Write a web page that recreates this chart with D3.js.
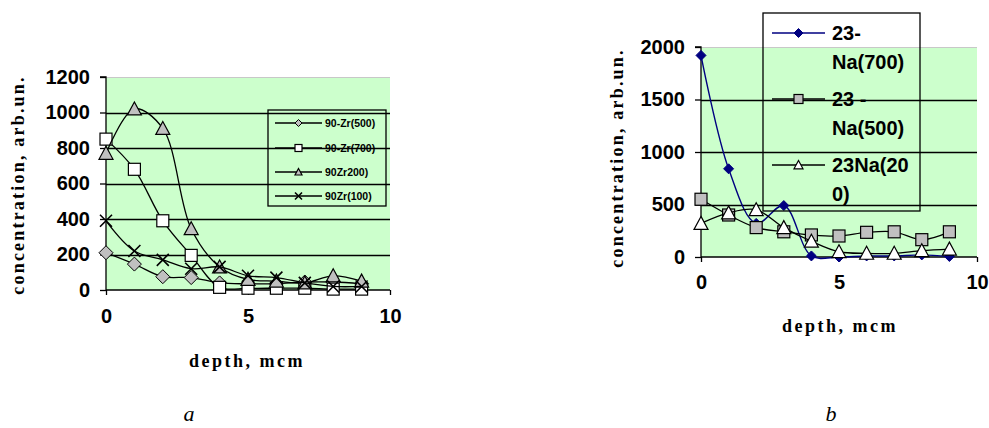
<!DOCTYPE html>
<html>
<head>
<meta charset="utf-8">
<script src="https://cdn.jsdelivr.net/npm/d3@7"></script>
<style>
  html, body { margin: 0; padding: 0; background: #fff; }
  svg { display: block; }
</style>
</head>
<body>
<svg id="chart" width="989" height="428"></svg>
<script>
// depth points, mcm
const depth = [0, 1, 2, 3, 4, 5, 6, 7, 8, 9];

// panel a: 90Zr profiles
const zrNames = ["90-Zr(500)", "90-Zr(700)", "90Zr200)", "90Zr(100)"];
const zr500 = [210, 146, 75, 70, 40, 35, 35, 45, 45, 35];
const zr700 = [850, 680, 390, 195, 15, 10, 10, 10, 5, 5];
const zr200 = [770, 1020, 910, 345, 130, 60, 50, 40, 80, 50];
const zr100 = [390, 220, 170, 120, 130, 80, 70, 40, 20, 20];
const zrYTicks = [0, 200, 400, 600, 800, 1000, 1200];

// panel b: 23Na profiles
const naNames = [["23-", "Na(700)"], ["23 -", "Na(500)"], ["23Na(20", "0)"]];
const na700 = [1920, 840, 320, 490, 10, 0, 10, 10, 20, 5];
const na500 = [550, 400, 280, 240, 210, 200, 235, 240, 165, 240];
const na200 = [320, 420, 450, 280, 150, 50, 35, 35, 60, 75];
const naYTicks = [0, 500, 1000, 1500, 2000];

const xTicks = [0, 5, 10];
const xTitle = "depth, mcm";
const yTitle = "concentration, arb.un.";

const svg = d3.select("#chart");
const SANS = "'Liberation Sans', Arial, sans-serif";
const SERIF = "'Liberation Serif', 'Times New Roman', serif";
const PLOT_FILL = "#ccffcc";

// marker painters, each centred on (0,0)
function drawMarker(g, kind, size, fill, stroke) {
  const h = size / 2;
  if (kind === "diamond") {
    g.append("path").attr("d", `M0,${-h}L${h},0L0,${h}L${-h},0Z`)
      .attr("fill", fill).attr("stroke", stroke).attr("stroke-width", 1);
  } else if (kind === "square") {
    g.append("rect").attr("x", -h).attr("y", -h).attr("width", size).attr("height", size)
      .attr("fill", fill).attr("stroke", stroke).attr("stroke-width", 1.2);
  } else if (kind === "triangle") {
    g.append("path").attr("d", `M0,${-h}L${h},${h * 0.85}L${-h},${h * 0.85}Z`)
      .attr("fill", fill).attr("stroke", stroke).attr("stroke-width", 1.2);
  } else if (kind === "x") {
    g.append("path").attr("d", `M${-h},${-h}L${h},${h}M${-h},${h}L${h},${-h}`)
      .attr("fill", "none").attr("stroke", stroke).attr("stroke-width", 1.6);
  }
}

function panel(cfg) {
  const x = d3.scaleLinear().domain([0, 10]).range([cfg.left, cfg.right]);
  const y = d3.scaleLinear().domain(cfg.yDomain).range([cfg.bottom, cfg.top]);
  const g = svg.append("g");

  // plot area
  g.append("rect").attr("x", cfg.left).attr("y", cfg.top)
    .attr("width", cfg.right - cfg.left).attr("height", cfg.bottom - cfg.top)
    .attr("fill", PLOT_FILL);
  g.append("line").attr("x1", cfg.left).attr("x2", cfg.right)
    .attr("y1", cfg.top + 0.5).attr("y2", cfg.top + 0.5)
    .attr("stroke", "#c8c8c8").attr("stroke-width", 1);

  // horizontal gridlines
  g.selectAll(".grid").data(cfg.yTicks.slice(1, -1)).join("line")
    .attr("x1", cfg.left).attr("x2", cfg.right)
    .attr("y1", d => Math.round(y(d)) + 0.5).attr("y2", d => Math.round(y(d)) + 0.5)
    .attr("stroke", "#000").attr("stroke-width", 1.3);

  // axes
  const yAxis = d3.axisLeft(y).tickValues(cfg.yTicks).tickSize(6).tickPadding(10)
    .tickFormat(d3.format("d"));
  const ya = g.append("g").attr("transform", `translate(${cfg.left},0)`).call(yAxis);
  const xAxis = d3.axisBottom(x).tickValues(xTicks).tickSize(5).tickPadding(cfg.xPad)
    .tickFormat(d3.format("d"));
  const xa = g.append("g").attr("transform", `translate(0,${cfg.bottom})`).call(xAxis);
  [ya, xa].forEach(a => {
    a.select(".domain").attr("stroke", "#000").attr("stroke-width", 1.3);
    a.selectAll(".tick line").attr("stroke", "#000").attr("stroke-width", 1.3);
    a.selectAll(".tick text").attr("fill", "#000")
      .style("font-family", SANS).style("font-weight", "bold").style("font-size", "20px");
  });
  ya.select(".domain").attr("d", `M-6,${cfg.top}H0V${cfg.bottom}`);
  xa.select(".domain").attr("d", `M${cfg.left},0H${cfg.right}`);

  // series
  const line = d3.line().x((d, i) => x(depth[i])).y(d => y(d)).curve(d3.curveCatmullRom.alpha(0.5));
  cfg.series.forEach(s => {
    g.append("path").datum(s.values).attr("d", line)
      .attr("fill", "none").attr("stroke", s.line).attr("stroke-width", s.lw);
    s.values.forEach((v, i) => {
      const m = g.append("g").attr("transform", `translate(${x(depth[i])},${y(v)})`);
      drawMarker(m, s.marker, s.size, s.fill, s.stroke);
    });
  });

  // legend (transparent box)
  const L = cfg.legend;
  g.append("rect").attr("x", L.x).attr("y", L.y).attr("width", L.w).attr("height", L.h)
    .attr("fill", "none").attr("stroke", "#000").attr("stroke-width", 1.3);
  cfg.series.forEach((s, i) => {
    const ry = L.rows[i];
    g.append("line").attr("x1", L.lx1).attr("x2", L.lx2).attr("y1", ry).attr("y2", ry)
      .attr("stroke", s.line).attr("stroke-width", s.lw);
    const m = g.append("g").attr("transform", `translate(${(L.lx1 + L.lx2) / 2},${ry})`);
    drawMarker(m, s.marker, L.msize, s.fill, s.stroke);
    const t = g.append("text").attr("x", L.tx).attr("y", ry + L.fs * 0.36)
      .style("font-family", SANS).style("font-weight", "bold").style("font-size", L.fs + "px")
      .attr("fill", "#000");
    const lines = Array.isArray(s.name) ? s.name : [s.name];
    lines.forEach((txt, k) => {
      t.append("tspan").attr("x", L.tx).attr("dy", k === 0 ? 0 : L.lh).text(txt);
    });
  });

  // axis titles
  g.append("text")
    .attr("transform", `translate(${cfg.yTitleX},${cfg.yTitleY}) rotate(-90)`)
    .attr("text-anchor", "middle")
    .style("font-family", SERIF).style("font-weight", "bold").style("font-size", "18px")
    .style("letter-spacing", "2.2px").attr("fill", "#000").text(yTitle);
  g.append("text").attr("x", cfg.xTitleX).attr("y", cfg.xTitleY)
    .attr("text-anchor", "middle")
    .style("font-family", SERIF).style("font-weight", "bold").style("font-size", "18px")
    .style("letter-spacing", "2.5px").attr("fill", "#000").text(xTitle);

  // panel letter
  g.append("text").attr("x", cfg.letterX).attr("y", 421).attr("text-anchor", "middle")
    .style("font-family", SERIF).style("font-style", "italic").style("font-size", "22px")
    .attr("fill", "#000").text(cfg.letter);
}

panel({
  left: 106, right: 390, top: 77, bottom: 290, yDomain: [0, 1200], yTicks: zrYTicks, xPad: 14,
  series: [
    { name: zrNames[0], values: zr500, marker: "diamond", size: 14, fill: "#c0c0c0", stroke: "#000", line: "#000", lw: 1.3 },
    { name: zrNames[1], values: zr700, marker: "square", size: 12, fill: "#fff", stroke: "#000", line: "#000", lw: 1.3 },
    { name: zrNames[2], values: zr200, marker: "triangle", size: 14, fill: "#c0c0c0", stroke: "#000", line: "#000", lw: 1.3 },
    { name: zrNames[3], values: zr100, marker: "x", size: 12, fill: "none", stroke: "#000", line: "#000", lw: 1.3 }
  ],
  legend: { x: 268, y: 110, w: 118, h: 96, rows: [123, 148, 172, 196], lx1: 275, lx2: 322, tx: 325,
            msize: 7, fs: 10.5, lh: 12 },
  yTitleX: 24, yTitleY: 185, xTitleX: 247, xTitleY: 367, letterX: 189, letter: "a"
});

panel({
  left: 701, right: 977, top: 47, bottom: 257, yDomain: [0, 2000], yTicks: naYTicks, xPad: 13,
  series: [
    { name: naNames[0], values: na700, marker: "diamond", size: 10, fill: "#000080", stroke: "#000080", line: "#000080", lw: 1.4 },
    { name: naNames[1], values: na500, marker: "square", size: 12, fill: "#c0c0c0", stroke: "#000", line: "#000", lw: 1.3 },
    { name: naNames[2], values: na200, marker: "triangle", size: 14, fill: "#fff", stroke: "#000", line: "#000", lw: 1.3 }
  ],
  legend: { x: 763, y: 13, w: 157, h: 198, rows: [33, 99, 165], lx1: 772, lx2: 825, tx: 832,
            msize: 9, fs: 20, lh: 29 },
  yTitleX: 623, yTitleY: 158, xTitleX: 840, xTitleY: 332, letterX: 831, letter: "b"
});
</script>
</body>
</html>
